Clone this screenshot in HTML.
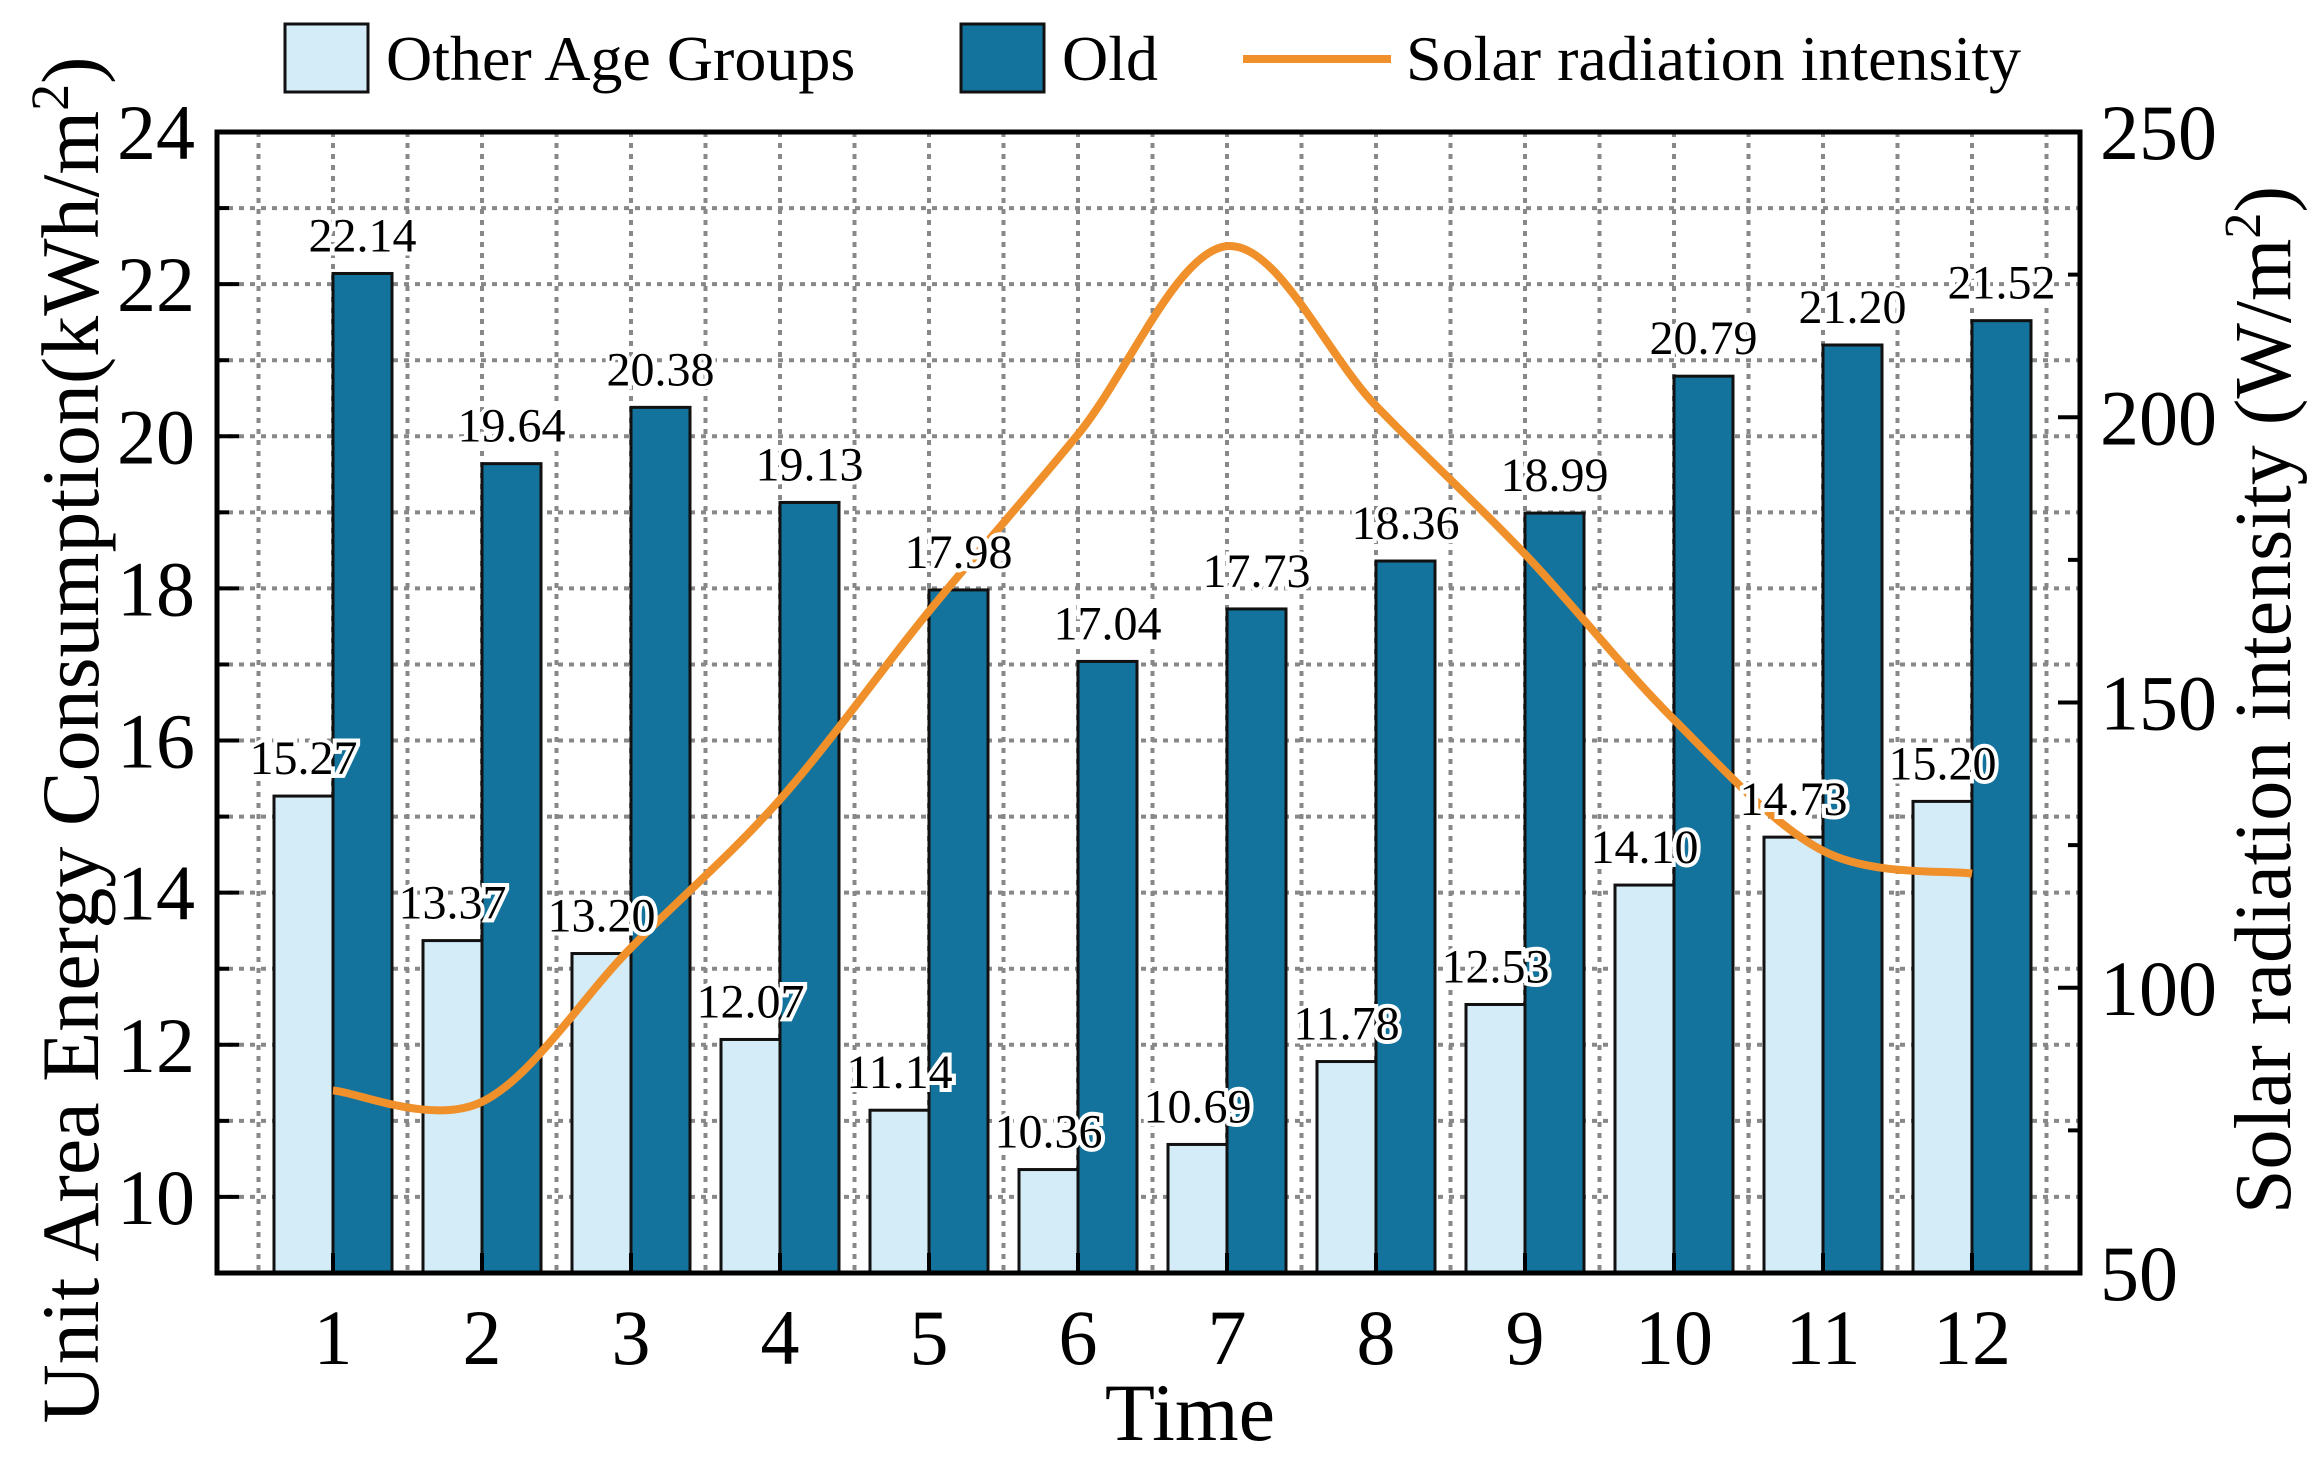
<!DOCTYPE html>
<html><head><meta charset="utf-8"><style>
body{margin:0;background:#fff}
svg{display:block;font-family:"Liberation Serif",serif}
</style></head><body>
<svg id="chart" width="2316" height="1460" viewBox="0 0 2316 1460" xmlns="http://www.w3.org/2000/svg">
<g id="grid"></g>
<g id="bars"></g>
<g id="line"></g>
<g id="labels"></g>
<g id="axes"></g>
<g>
<rect x="285" y="24" width="83" height="68" fill="#d4ebf8" stroke="#111" stroke-width="3"/>
<text x="386" y="80" font-size="64">Other Age Groups</text>
<rect x="961" y="24" width="83" height="68" fill="#14739c" stroke="#111" stroke-width="3"/>
<text x="1062" y="80" font-size="64">Old</text>
<line x1="1243" y1="59" x2="1391" y2="59" stroke="#f0902a" stroke-width="8"/>
<text x="1406" y="80" font-size="64">Solar radiation intensity</text>
</g>
<text x="1190" y="1440" font-size="82" text-anchor="middle">Time</text>
<text transform="translate(98,740) rotate(-90)" font-size="82" text-anchor="middle">Unit Area Energy Consumption(kWh/m<tspan dy="-30" font-size="54">2</tspan><tspan dy="30">)</tspan></text>
<text transform="translate(2290,700) rotate(-90)" font-size="80" text-anchor="middle">Solar radiation intensity (W/m<tspan dy="-30" font-size="52">2</tspan><tspan dy="30">)</tspan></text>
</svg>
<script>
const categories=["1","2","3","4","5","6","7","8","9","10","11","12"];
const otherValues=[15.27,13.37,13.20,12.07,11.14,10.36,10.69,11.78,12.53,14.10,14.73,15.20];
const oldValues=[22.14,19.64,20.38,19.13,17.98,17.04,17.73,18.36,18.99,20.79,21.20,21.52];
const solarValues=[82,80,107,133,166,197,230,202,176,147,124,120];
const leftTicks=[10,12,14,16,18,20,22,24];
const rightTicks=[50,100,150,200,250];

const NS="http://www.w3.org/2000/svg";
const L=217,R=2080,T=132,B=1273;
const x=i=>333+i*149;
const yL=v=>T+(24-v)/(24-9)*(B-T);
const yR=v=>T+(250-v)/(250-50)*(B-T);
function mk(p,tag,a){const e=document.createElementNS(NS,tag);for(const k in a)e.setAttribute(k,a[k]);p.appendChild(e);return e;}
const grid=document.getElementById('grid'),bars=document.getElementById('bars'),line=document.getElementById('line'),labels=document.getElementById('labels'),axes=document.getElementById('axes');
for(let v=9;v<=24;v++){const g=mk(grid,'line',{x1:L,x2:R,y1:yL(v),y2:yL(v),stroke:'#888','stroke-width':4,'stroke-dasharray':'5 6'});

}
for(let k=-1;k<=24;k++){const xx=x(k/2);if(xx<=L+5||xx>=R-5)continue;const g=mk(grid,'line',{x1:xx,x2:xx,y1:T,y2:B,stroke:'#888','stroke-width':4,'stroke-dasharray':'5 6'});

}
const bw=59;
categories.forEach((c,i)=>{
 const a=mk(bars,'rect',{x:x(i)-bw,y:yL(otherValues[i]),width:bw,height:B-yL(otherValues[i]),fill:'#d4ebf8',stroke:'#111','stroke-width':3});
 
 
 const b=mk(bars,'rect',{x:x(i),y:yL(oldValues[i]),width:bw,height:B-yL(oldValues[i]),fill:'#14739c',stroke:'#111','stroke-width':3});
 
 
});
const pts=solarValues.map((v,i)=>[x(i),yR(v)]);
let d='M'+pts[0][0]+','+pts[0][1];
for(let i=0;i<pts.length-1;i++){const p0=pts[Math.max(0,i-1)],p1=pts[i],p2=pts[i+1],p3=pts[Math.min(pts.length-1,i+2)];
d+=` C${p1[0]+(p2[0]-p0[0])/6},${p1[1]+(p2[1]-p0[1])/6} ${p2[0]-(p3[0]-p1[0])/6},${p2[1]-(p3[1]-p1[1])/6} ${p2[0]},${p2[1]}`;}
const pl=mk(line,'path',{d:d,fill:'none',stroke:'#f0902a','stroke-width':8,'stroke-linejoin':'round'});


function lab(cx,v,name){const t=mk(labels,'text',{x:cx,y:yL(v)-22,'font-size':48,'text-anchor':'middle',stroke:'#fff','stroke-width':8,'paint-order':'stroke'});t.textContent=v.toFixed(2);

}
categories.forEach((c,i)=>{lab(x(i)-bw/2,otherValues[i],'label-other-'+c);lab(x(i)+bw/2,oldValues[i],'label-old-'+c);});
const fr=mk(axes,'rect',{x:L,y:T,width:R-L,height:B-T,fill:'none',stroke:'#000','stroke-width':5});


for(let v=9;v<=24;v++){const t=mk(axes,'line',{x1:L,x2:L+(v%2==0?22:12),y1:yL(v),y2:yL(v),stroke:'#000','stroke-width':4});

}
leftTicks.forEach(v=>{const t=mk(axes,'text',{x:195,y:yL(v)+27,'font-size':78,'text-anchor':'end'});t.textContent=v;

});
for(let v=50;v<=250;v+=25){const t=mk(axes,'line',{x1:R,x2:R-(v%50==0?22:12),y1:yR(v),y2:yR(v),stroke:'#000','stroke-width':4});

}
rightTicks.forEach(v=>{const t=mk(axes,'text',{x:2100,y:yR(v)+27,'font-size':78});t.textContent=v;

});
categories.forEach((c,i)=>{const tk=mk(axes,'line',{x1:x(i),x2:x(i),y1:B,y2:B-20,stroke:'#000','stroke-width':4});


const t=mk(axes,'text',{x:x(i),y:1364,'font-size':78,'text-anchor':'middle'});t.textContent=c;

});
</script>
</body></html>
